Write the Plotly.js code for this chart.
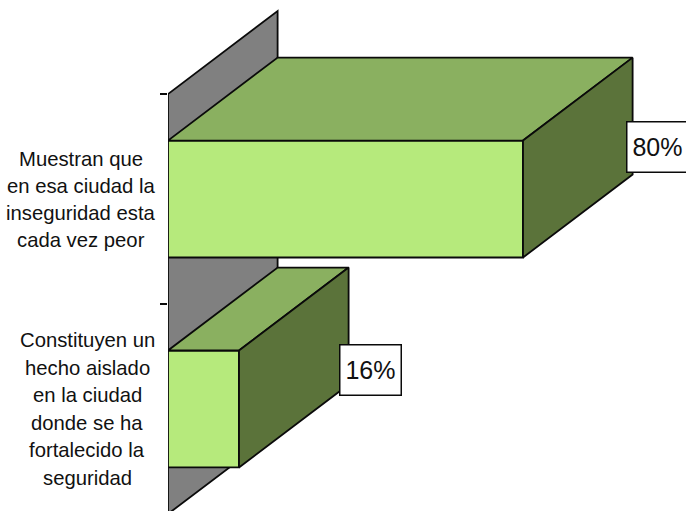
<!DOCTYPE html>
<html><head><meta charset="utf-8">
<script src="https://cdn.plot.ly/plotly-3.0.1.min.js"></script>
<style>html,body{margin:0;padding:0;background:#fff;overflow:hidden}</style>
</head><body><div id="chart" style="width:686px;height:511px"></div>
<script>
const categories = [
  ["Muestran que","en esa ciudad la","inseguridad esta","cada vez peor"],
  ["Constituyen un","hecho aislado","en la ciudad","donde se ha","fortalecido la","seguridad"]
];
const values = [80, 16];
const valueLabels = ["80%", "16%"];
const positions = [0, 1];

const barWidth = 0.557, depthX = 24.7, depthY = -0.395;
const xMax = 116.73, yTop = -0.948, yBottom = 1.486;
const labelShift = [[134.5, 52], [131.5, 39]];
const lineGap = [27, 27.6];
const labelCenter = [81, 87];
const black = '#0a0a0a';

const topX = [], topY = [], sideX = [], sideY = [];
values.forEach((v, i) => {
  const t = positions[i] - barWidth / 2, b = positions[i] + barWidth / 2;
  topX.push(0, v, v + depthX, depthX, 0, null);
  topY.push(t, t, t + depthY, t + depthY, t, null);
  sideX.push(v, v + depthX, v + depthX, v, v, null);
  sideY.push(t, t + depthY, b + depthY, b, t, null);
});

const traces = [
  {type:'bar', orientation:'h', x:values, y:positions, width:barWidth,
   marker:{color:'#b6ea7c', line:{color:black, width:1.8}}, hoverinfo:'x'},
  {type:'scatter', mode:'lines', x:topX, y:topY, fill:'toself', fillcolor:'#8ab060',
   line:{color:black, width:1.8}, hoverinfo:'skip'},
  {type:'scatter', mode:'lines', x:sideX, y:sideY, fill:'toself', fillcolor:'#5b733a',
   line:{color:black, width:1.8}, hoverinfo:'skip'}
];

const wallTop = positions[0] - 0.5, wallBottom = positions[1] + 0.5;
const wall = `M 0 ${wallBottom} L 0 ${wallTop} L ${depthX} ${wallTop + depthY} L ${depthX} ${wallBottom + depthY} Z`;

const annotations = [];
categories.forEach((lines, i) => {
  lines.forEach((line, k) => {
    annotations.push({xref:'paper', yref:'y', x:(labelCenter[i] - 168) / 518, y:positions[i], text:line, showarrow:false,
      xanchor:'center', yanchor:'middle', font:{family:'Liberation Sans, Arial, sans-serif', size:20.3, color:'#111'},
      yshift:-(k - (lines.length - 1) / 2) * lineGap[i]});
  });
  annotations.push({xref:'x', yref:'y', x:values[i], y:positions[i], text:valueLabels[i], showarrow:false,
    xanchor:'center', yanchor:'middle', xshift:labelShift[i][0], yshift:labelShift[i][1],
    width:60, height:49, borderpad:0,
    bgcolor:'#fff', bordercolor:black, borderwidth:1.5,
    font:{family:'Liberation Sans, Arial, sans-serif', size:25, color:'#111'}});
});

const layout = {
  width:686, height:511, showlegend:false, paper_bgcolor:'#fff', plot_bgcolor:'#fff',
  margin:{l:168, r:0, t:0, b:0},
  xaxis:{range:[0, xMax], visible:false, fixedrange:true},
  yaxis:{range:[yBottom, yTop], showgrid:false, zeroline:false, showline:false, showticklabels:false,
    ticks:'outside', ticklen:7, tickwidth:1.5, tickcolor:black, tickvals:[-0.5, 0.5], fixedrange:true},
  shapes:[{type:'path', xref:'x', yref:'y', path:wall, layer:'below', fillcolor:'#808080',
    line:{color:black, width:1.8}}],
  annotations
};
Plotly.newPlot('chart', traces, layout, {displayModeBar:false, responsive:false});
</script></body></html>
